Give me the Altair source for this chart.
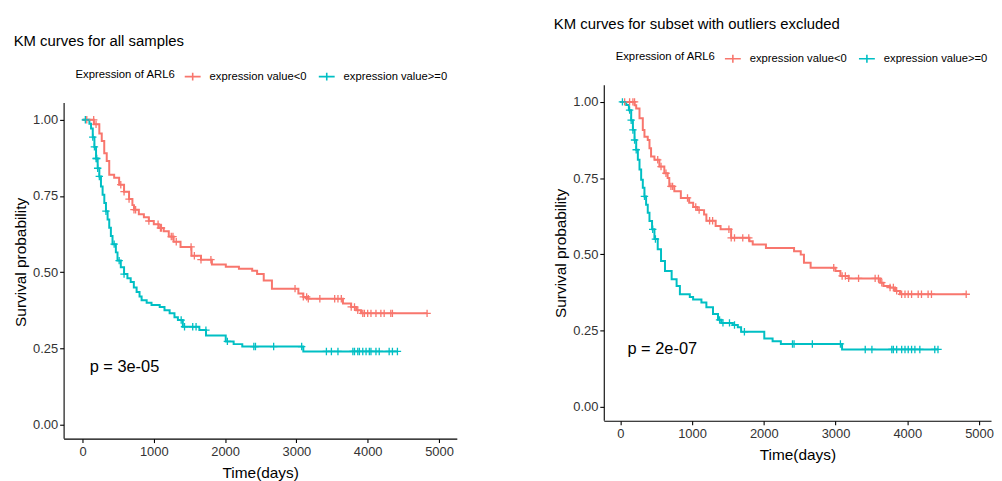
import altair as alt
import pandas as pd
import bisect

GROUPS = ["expression value<0", "expression value>=0"]
COLORS = ["#F8766D", "#00BFC4"]

# ---------- left panel: all samples ----------
L_red_t = [0, 160, 236, 270, 305, 340, 375, 444, 514, 583, 653, 700, 722, 790, 861, 930, 1000, 1070,
           1139, 1210, 1278, 1375, 1528, 1662, 1815, 2010, 2194, 2380, 2449, 2542, 2657, 3028, 3097,
           3167, 3653, 3768, 3838, 3907, 4833]
L_red_s = [1.0, 0.985, 0.955, 0.93, 0.89, 0.865, 0.82, 0.81, 0.787, 0.764, 0.74, 0.72, 0.705, 0.69,
           0.68, 0.668, 0.657, 0.645, 0.634, 0.617, 0.60, 0.583, 0.554, 0.541, 0.525, 0.518, 0.511,
           0.505, 0.494, 0.473, 0.446, 0.43, 0.419, 0.413, 0.397, 0.386, 0.375, 0.365, 0.365]
L_red_cens = [60, 157, 190, 537, 583, 653, 722, 745, 931, 1060, 1093, 1107, 1245, 1269, 1315, 1523,
              1569, 1662, 1801, 2981, 3097, 3144, 3167, 3329, 3537, 3583, 3630, 3769, 3815, 3861,
              3931, 3954, 4000, 4046, 4116, 4185, 4231, 4324, 4347, 4833]

L_teal_t = [0, 97, 120, 144, 167, 190, 213, 236, 259, 282, 306, 329, 352, 375, 398, 421, 468, 491,
            537, 583, 630, 676, 720, 759, 800, 829, 900, 968, 1083, 1150, 1222, 1290, 1338, 1407,
            1639, 1732, 2009, 2120, 2241, 3097, 4417]
L_teal_s = [1.0, 0.987, 0.971, 0.943, 0.911, 0.873, 0.841, 0.814, 0.781, 0.754, 0.727, 0.70, 0.673,
            0.646, 0.619, 0.592, 0.565, 0.538, 0.516, 0.494, 0.48, 0.468, 0.45, 0.435, 0.42, 0.408,
            0.40, 0.392, 0.386, 0.375, 0.365, 0.352, 0.343, 0.321, 0.31, 0.292, 0.273, 0.264,
            0.256, 0.24, 0.24]
L_teal_cens = [40, 144, 167, 190, 200, 213, 236, 329, 444, 514, 583, 1384, 1431, 1546, 1593, 1731,
               2032, 2403, 2426, 2681, 3074, 3421, 3491, 3583, 3792, 3815, 3861, 3884, 3931, 3977,
               4023, 4046, 4116, 4162, 4301, 4347, 4417]

# ---------- right panel: outliers excluded ----------
R_red_t = [0, 200, 222, 268, 314, 337, 383, 407, 429, 476, 545, 614, 660, 683, 753, 844, 960, 1016,
           1075, 1168, 1200, 1329, 1398, 1545, 1800, 1846, 2030, 2422, 2515, 2560, 2653, 2999, 3068,
           3183, 3622, 3668, 3760, 3829, 3898, 4821]
R_red_s = [1.0, 0.989, 0.978, 0.946, 0.908, 0.886, 0.875, 0.848, 0.821, 0.81, 0.788, 0.766, 0.75,
           0.723, 0.707, 0.685, 0.669, 0.655, 0.645, 0.631, 0.61, 0.593, 0.582, 0.554, 0.543,
           0.532, 0.521, 0.51, 0.499, 0.472, 0.456, 0.445, 0.429, 0.421, 0.407, 0.396, 0.391,
           0.38, 0.369, 0.369]
R_red_cens = [61, 130, 176, 199, 522, 568, 637, 706, 729, 937, 1052, 1099, 1245, 1287, 1514, 1546,
              1592, 1707, 1791, 2975, 3092, 3137, 3183, 3321, 3552, 3598, 3645, 3760, 3806, 3852,
              3921, 3968, 4013, 4060, 4152, 4198, 4290, 4337, 4821]

R_teal_t = [0, 83, 120, 152, 176, 199, 222, 245, 268, 291, 314, 337, 360, 383, 407, 443, 476, 522,
            568, 623, 716, 785, 831, 969, 1015, 1131, 1200, 1292, 1362, 1407, 1569, 1638, 1684,
            2007, 2123, 2238, 3091, 4428]
R_teal_s = [1.0, 0.99, 0.973, 0.94, 0.908, 0.875, 0.843, 0.81, 0.778, 0.745, 0.718, 0.69, 0.663,
            0.636, 0.609, 0.582, 0.55, 0.517, 0.478, 0.445, 0.418, 0.396, 0.369, 0.36, 0.352,
            0.342, 0.326, 0.304, 0.285, 0.275, 0.268, 0.261, 0.246, 0.224, 0.215, 0.206, 0.188,
            0.188]
R_teal_cens = [30, 130, 152, 176, 199, 222, 337, 452, 490, 1384, 1431, 1522, 1592, 1730, 2400,
               2422, 2677, 3068, 3414, 3507, 3784, 3806, 3852, 3922, 3968, 4013, 4060, 4106, 4175,
               4383, 4428]

X_TICKS = [0, 1000, 2000, 3000, 4000, 5000]
Y_TICKS = [0.0, 0.25, 0.5, 0.75, 1.0]
Y_LIMITS = [-0.046, 1.055]

FONT = "Liberation Sans"
PLUS = "M-1,0H1M0,-1V1"
LEGEND_PLUS = "M-1,0H1M0,-0.5V0.5"
PX_PER_UNIT = 307.0
BASE_H = 338


def step_value(times, surv, t):
    i = bisect.bisect_right(times, t) - 1
    return surv[max(i, 0)]


def panel(red_t, red_s, red_c, teal_t, teal_s, teal_c, title, p_text, xdomain, width, drop):
    """drop: pixels by which this panel's plot sits lower than its neighbour's."""
    curve = pd.DataFrame({
        "time": red_t + teal_t,
        "surv": red_s + teal_s,
        "group": [GROUPS[0]] * len(red_t) + [GROUPS[1]] * len(teal_t),
    })
    cens = pd.DataFrame({
        "time": red_c + teal_c,
        "surv": [step_value(red_t, red_s, t) for t in red_c]
        + [step_value(teal_t, teal_s, t) for t in teal_c],
        "group": [GROUPS[0]] * len(red_c) + [GROUPS[1]] * len(teal_c),
    })
    ptxt = pd.DataFrame({"time": [100], "surv": [0.19], "label": [p_text]})

    y_top = Y_LIMITS[1] + drop / PX_PER_UNIT
    x = alt.X("time:Q", scale=alt.Scale(domain=xdomain, nice=False, zero=False),
              axis=alt.Axis(values=X_TICKS, title="Time(days)", format="d",
                            labelPadding=3, titlePadding=7))
    y = alt.Y("surv:Q", scale=alt.Scale(domain=[Y_LIMITS[0], y_top], nice=False, zero=False),
              axis=alt.Axis(values=Y_TICKS, title="Survival probability", format=".2f",
                            domain=False, labelPadding=2, titlePadding=4))
    legend = alt.Legend(
        orient="none", legendX=12, legendY=-36 + drop, direction="horizontal",
        title="Expression of ARL6", titleOrient="left", titlePadding=8,
        titleFontSize=11.4, titleFont=FONT, titleFontWeight="normal", titleColor="black",
        labelFontSize=11.3, labelFont=FONT, labelColor="black", labelOffset=8,
        columnPadding=8, symbolType=LEGEND_PLUS, symbolSize=256, symbolStrokeWidth=1.6,
        padding=0,
    )
    color = alt.Color("group:N", scale=alt.Scale(domain=GROUPS, range=COLORS), legend=legend)

    # y axis line covering only the panel range
    yline = alt.Chart(pd.DataFrame({"lo": [Y_LIMITS[0]], "hi": [Y_LIMITS[1]]})).mark_rule(
        color="black", strokeWidth=1.1).encode(
        x=alt.value(0.5), y=alt.Y("lo:Q"), y2=alt.Y2("hi:Q"))
    line = alt.Chart(curve).mark_line(interpolate="step-after", strokeWidth=2).encode(
        x=x, y=y, color=color)
    pts = alt.Chart(cens).mark_point(shape=PLUS, filled=False, size=56, strokeWidth=1.3,
                                     opacity=1).encode(x=x, y=y, color=color)
    txt = alt.Chart(ptxt).mark_text(align="left", baseline="middle", fontSize=16.5, font=FONT,
                                    color="black").encode(x="time:Q", y="surv:Q", text="label:N")
    return alt.layer(line, pts, txt, yline).properties(
        width=width, height=BASE_H + drop,
        title=alt.Title(title, anchor="start", fontSize=15, font=FONT, fontWeight="normal",
                        color="black", offset=18),
    )


left = panel(L_red_t, L_red_s, L_red_cens, L_teal_t, L_teal_s, L_teal_cens,
             "KM curves for all samples", "p = 3e-05", [-265, 5250], 396, 18)
right = panel(R_red_t, R_red_s, R_red_cens, R_teal_t, R_teal_s, R_teal_cens,
              "KM curves for subset with outliers excluded", "p = 2e-07", [-230, 5167], 390, 0)

chart = alt.hconcat(left, right, spacing=97).resolve_scale(color="independent").properties(
    padding={"left": 5, "top": 7, "right": 0, "bottom": 0}
).configure_view(stroke=None).configure_axis(
    grid=False, domainColor="black", domainWidth=1.1, tickColor="black", tickSize=4,
    tickWidth=1.1, labelFont=FONT, labelFontSize=13, labelColor="#333333",
    titleFont=FONT, titleFontSize=15.5, titleFontWeight="normal", titleColor="black",
)

chart.save("out.html", embed_options={"renderer": "svg", "actions": False})
